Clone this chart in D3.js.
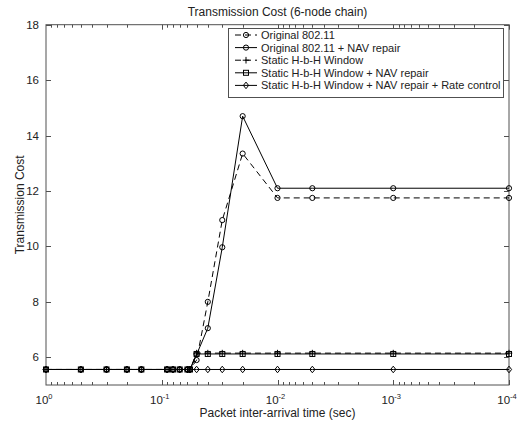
<!DOCTYPE html>
<html><head><meta charset="utf-8">
<script src="https://cdn.jsdelivr.net/npm/d3@7"></script>
<style>body{margin:0;background:#fff}svg{display:block;font-family:"Liberation Sans",Arial,sans-serif}</style>
</head><body><svg id="c" width="520" height="421"></svg>
<script>
const xValues = [1, 0.5, 0.3, 0.2, 0.15, 0.09, 0.08, 0.07, 0.06, 0.057, 0.05, 0.04, 0.03, 0.02, 0.01, 0.005, 0.001, 0.0001];
const base = [5.56, 5.56, 5.56, 5.56, 5.56, 5.56, 5.56, 5.56, 5.56, 5.56];
const original = base.concat([5.9, 8.0, 10.95, 13.35, 11.75, 11.75, 11.75, 11.75]);
const originalNav = base.concat([6.1, 7.05, 9.97, 14.7, 12.1, 12.1, 12.1, 12.1]);
const staticHbh = base.concat([6.15, 6.15, 6.15, 6.15, 6.15, 6.15, 6.15, 6.15]);
const staticHbhNav = base.concat([6.12, 6.12, 6.12, 6.12, 6.12, 6.12, 6.12, 6.12]);
const staticHbhNavRate = base.concat([5.56, 5.56, 5.56, 5.56, 5.56, 5.56, 5.56, 5.56]);
const seriesNames = ["Original 802.11", "Original 802.11 + NAV repair", "Static H-b-H Window", "Static H-b-H Window + NAV repair", "Static H-b-H Window + NAV repair + Rate control"];
const seriesData = [original, originalNav, staticHbh, staticHbhNav, staticHbhNavRate];
const seriesDash = [true, false, true, false, false];
const seriesMarker = ["circle", "circle", "plus", "square", "diamond"];
const yTicks = [6, 8, 10, 12, 14, 16, 18];
const xTickExps = [0, -1, -2, -3, -4];
const titleText = "Transmission Cost (6-node chain)";
const xLabel = "Packet inter-arrival time (sec)";
const yLabel = "Transmission Cost";

const svg = d3.select("#c");
const L = 46, R = 509, T = 24.7, B = 385;
const x = d3.scaleLog().domain([1, 1e-4]).range([L, R]);
const y = d3.scaleLinear().domain([5, 18]).range([B, T]);
const axisColor = "#505050", textColor = "#222";

// axes box
svg.append("rect").attr("x", L).attr("y", T).attr("width", R - L).attr("height", B - T)
  .attr("fill", "none").attr("stroke", axisColor).attr("stroke-width", 1);

// x ticks (major + minor), inward, bottom and top
const minor = [];
for (let e = 0; e > -4; e--) for (let m = 1; m < 10; m++) minor.push(m * Math.pow(10, e - 1));
const g = svg.append("g").attr("stroke", axisColor).attr("stroke-width", 1);
minor.forEach(v => {
  const isMajor = Math.abs(Math.log10(v) - Math.round(Math.log10(v))) < 1e-9;
  const len = isMajor ? 5 : 3;
  const px = Math.round(x(v)) + 0.5;
  g.append("line").attr("x1", px).attr("x2", px).attr("y1", B).attr("y2", B - len);
  g.append("line").attr("x1", px).attr("x2", px).attr("y1", T).attr("y2", T + len);
});
yTicks.forEach(v => {
  const py = Math.round(y(v)) + 0.5;
  g.append("line").attr("x1", L).attr("x2", L + 5).attr("y1", py).attr("y2", py);
  g.append("line").attr("x1", R).attr("x2", R - 5).attr("y1", py).attr("y2", py);
});

// tick labels
svg.append("g").selectAll("text").data(yTicks).join("text")
  .attr("x", L - 7).attr("y", d => y(d) + 4).attr("text-anchor", "end")
  .attr("font-size", 11.5).attr("fill", textColor).text(d => d);
const xl = svg.append("g").selectAll("text").data(xTickExps).join("text")
  .attr("x", d => x(Math.pow(10, d)) - 2).attr("y", 404).attr("text-anchor", "middle")
  .attr("font-size", 11.5).attr("fill", textColor);
xl.append("tspan").text("10");
xl.append("tspan").attr("dy", -5).attr("font-size", 7.5).text(d => d === 0 ? "0" : "-" + (-d));

// title and labels
svg.append("text").attr("x", (L + R) / 2).attr("y", 16).attr("text-anchor", "middle")
  .attr("font-size", 12).attr("fill", textColor).text(titleText);
svg.append("text").attr("x", (L + R) / 2).attr("y", 417).attr("text-anchor", "middle")
  .attr("font-size", 12).attr("fill", textColor).text(xLabel);
svg.append("text").attr("transform", `translate(24,${(T + B) / 2}) rotate(-90)`).attr("text-anchor", "middle")
  .attr("font-size", 12).attr("fill", textColor).text(yLabel);

function drawMarker(sel, type, cx, cy) {
  const s = sel.append("g").attr("fill", "none").attr("stroke", "#000").attr("stroke-width", 1);
  if (type === "circle") s.append("circle").attr("cx", cx).attr("cy", cy).attr("r", 2.6);
  else if (type === "square") s.append("rect").attr("x", cx - 2.5).attr("y", cy - 2.5).attr("width", 5).attr("height", 5);
  else if (type === "diamond") s.append("path").attr("d", `M${cx},${cy - 3.3}L${cx + 2.6},${cy}L${cx},${cy + 3.3}L${cx - 2.6},${cy}Z`);
  else if (type === "plus") s.append("path").attr("d", `M${cx - 3.3},${cy}H${cx + 3.3}M${cx},${cy - 3.3}V${cy + 3.3}`);
}

const line = d3.line().x((d, i) => x(xValues[i])).y(d => y(d));
const plot = svg.append("g");
seriesData.forEach((data, k) => {
  plot.append("path").attr("d", line(data)).attr("fill", "none").attr("stroke", "#000")
    .attr("stroke-width", 1).attr("stroke-dasharray", seriesDash[k] ? "6,4" : null);
  data.forEach((v, i) => drawMarker(plot, seriesMarker[k], x(xValues[i]), y(v)));
});

// legend
const lx = 228, ly = 28, lw = 275, lh = 69;
const leg = svg.append("g");
leg.append("rect").attr("x", lx + 0.5).attr("y", ly + 0.5).attr("width", lw).attr("height", lh)
  .attr("fill", "#fff").attr("stroke", axisColor);
seriesNames.forEach((name, k) => {
  const yy = ly + 7 + k * 12.6;
  leg.append("line").attr("x1", 235).attr("x2", 257).attr("y1", yy).attr("y2", yy)
    .attr("stroke", "#000").attr("stroke-dasharray", seriesDash[k] ? "6,4" : null);
  drawMarker(leg, seriesMarker[k], 246, yy);
  leg.append("text").attr("x", 261).attr("y", yy + 4).attr("font-size", 11).attr("fill", textColor).text(name);
});
</script></body></html>
